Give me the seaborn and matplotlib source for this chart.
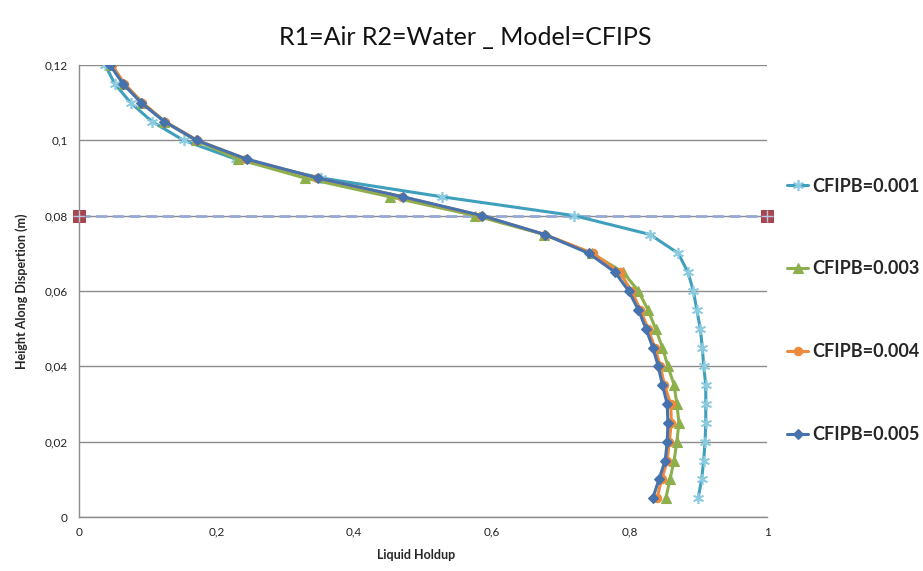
import numpy as np
import pandas as pd
import matplotlib
matplotlib.use("Agg")
import matplotlib.pyplot as plt
import seaborn as sns
from matplotlib.ticker import FuncFormatter, MultipleLocator

# height along dispersion (m), shared by every series
height = [0.12, 0.115, 0.11, 0.105, 0.1, 0.095, 0.09, 0.085, 0.08, 0.075, 0.07, 0.065,
          0.06, 0.055, 0.05, 0.045, 0.04, 0.035, 0.03, 0.025, 0.02, 0.015, 0.01, 0.005]

holdup_001 = [0.038, 0.052, 0.075, 0.106, 0.152, 0.228, 0.352, 0.528, 0.720, 0.830, 0.871, 0.885,
              0.893, 0.898, 0.903, 0.906, 0.908, 0.911, 0.911, 0.911, 0.910, 0.908, 0.905, 0.900]
holdup_003 = [0.047, 0.066, 0.092, 0.124, 0.170, 0.231, 0.328, 0.452, 0.576, 0.676, 0.745, 0.791,
              0.813, 0.827, 0.838, 0.848, 0.856, 0.865, 0.869, 0.872, 0.869, 0.865, 0.859, 0.853]
holdup_004 = [0.048, 0.066, 0.092, 0.125, 0.172, 0.243, 0.346, 0.470, 0.585, 0.677, 0.747, 0.786,
              0.803, 0.816, 0.827, 0.837, 0.845, 0.851, 0.860, 0.861, 0.858, 0.855, 0.847, 0.840]
holdup_005 = [0.045, 0.064, 0.090, 0.124, 0.171, 0.244, 0.347, 0.471, 0.586, 0.677, 0.741, 0.779,
              0.799, 0.813, 0.824, 0.834, 0.842, 0.848, 0.855, 0.856, 0.855, 0.852, 0.843, 0.834]

labels = ["CFIPB=0.001", "CFIPB=0.003", "CFIPB=0.004", "CFIPB=0.005"]

# reference line at the interface height
ref_x = [0, 1]
ref_y = [0.08, 0.08]

colors = ["#3FA0BD", "#8DB04D", "#EE8A3C", "#4672AE"]
markers = [(6, 2, 0), "^", "o", "D"]
msizes = [8, 7, 6, 5]

sns.set_theme(style="white")
plt.rcParams["font.family"] = ["Lato", "DejaVu Sans"]

fig = plt.figure(figsize=(9.23, 5.71), dpi=100)
ax = fig.add_axes([79 / 923, 1 - 517 / 571, 688 / 923, 452 / 571])

# dashed reference line
sns.lineplot(x=ref_x, y=ref_y, ax=ax, color="#97AAD4", lw=2, linestyle=(0, (4, 2)),
             marker="s", markersize=8, markerfacecolor="#A6474F", markeredgecolor="#A6474F",
             clip_on=False, zorder=5)
ax.plot(ref_x, ref_y, linestyle="none", marker="+", markersize=8, color="#B9C6E4",
        mew=1, clip_on=False, zorder=6)

series = [holdup_001, holdup_003, holdup_004, holdup_005]
df = pd.DataFrame({
    "holdup": np.concatenate(series),
    "height": np.tile(height, len(series)),
    "series": np.repeat(labels, len(height)),
})

for i, lab in enumerate(labels):
    sub = df[df["series"] == lab]
    filled = i != 0
    sns.lineplot(data=sub, x="holdup", y="height", ax=ax, sort=False, estimator=None,
                 color=colors[i], lw=2.2, marker=markers[i], markersize=msizes[i],
                 markerfacecolor=colors[i] if filled else "none",
                 markeredgecolor=colors[i] if filled else "#8CCBE0",
                 markeredgewidth=1.2 if not filled else 0.8,
                 label=lab, zorder=10 + i)

ax.set_xlim(0, 1)
ax.set_ylim(0, 0.12)
ax.xaxis.set_major_locator(MultipleLocator(0.2))
ax.yaxis.set_major_locator(MultipleLocator(0.02))
comma = FuncFormatter(lambda v, p: f"{v:g}".replace(".", ","))
ax.xaxis.set_major_formatter(comma)
ax.yaxis.set_major_formatter(comma)
ax.tick_params(axis="both", labelsize=8.5, length=0, labelcolor="#222222")
ax.tick_params(axis="x", pad=7)
ax.tick_params(axis="y", pad=8)

ax.grid(axis="y", color="#8C8C8C", lw=1)
ax.grid(axis="x", visible=False)
for s in ["top", "right"]:
    ax.spines[s].set_visible(False)
for s in ["left", "bottom"]:
    ax.spines[s].set_color("#8C8C8C")
    ax.spines[s].set_linewidth(1)

ax.set_xlabel("Liquid Holdup", fontsize=9, fontweight="bold")
ax.set_ylabel("Height Along Dispertion (m)", fontsize=9, fontweight="bold")
ax.xaxis.set_label_coords(0.49, -0.07)
ax.yaxis.set_label_coords(-0.074, 0.5)

fig.text(0.504, 0.935, "R1=Air R2=Water _ Model=CFIPS", ha="center", va="center",
         fontsize=18, color="#111111")

leg = ax.legend(loc="center left", bbox_to_anchor=(1.029, 0.457), frameon=False,
                fontsize=13, labelspacing=3.65, handlelength=1.17, handletextpad=0.22,
                borderpad=0, borderaxespad=0)
for t in leg.get_texts():
    t.set_fontweight("bold")

fig.savefig("out.png", dpi=100)
